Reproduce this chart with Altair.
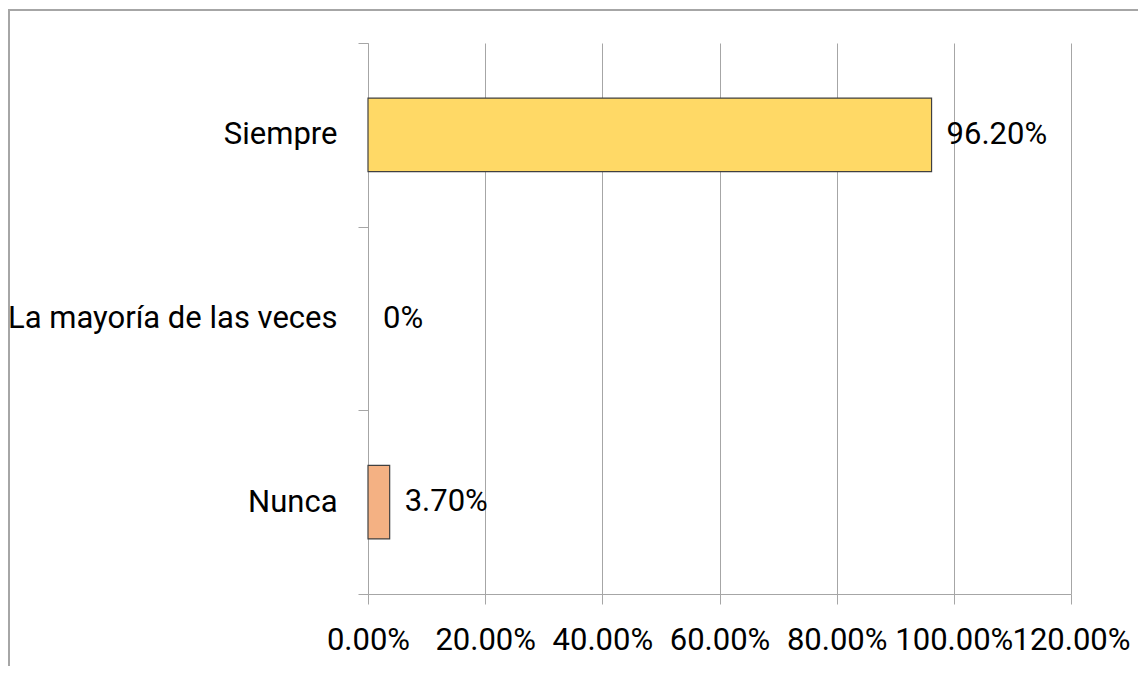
import altair as alt
import pandas as pd

categories = ["Siempre", "La mayoría de las veces", "Nunca"]
values = [0.962, 0.0, 0.037]
labels = ["96.20%", "0%", "3.70%"]
colors = ["#FFD966", "#FFFFFF", "#F4B183"]
tick_values = [0, 0.2, 0.4, 0.6, 0.8, 1.0, 1.2]

df = pd.DataFrame({"cat": categories, "val": values, "label": labels})

FONT = "Roboto"
FS = 31
GRAY = "#A6A6A6"

x_enc = alt.X(
    "val:Q",
    scale=alt.Scale(domain=[0, 1.2], nice=False),
    axis=alt.Axis(
        values=tick_values, format=".2%", title=None, grid=True,
        tickSize=10, labelPadding=21, labelOverlap=False, labelFlush=False,
        labelFontSize=FS, labelFont=FONT, labelColor="#000000", labelLimit=0,
        domainColor=GRAY, tickColor=GRAY, gridColor=GRAY,
    ),
)
y_enc = alt.Y(
    "cat:N",
    sort=categories,
    scale=alt.Scale(paddingInner=0, paddingOuter=0),
    axis=alt.Axis(
        title=None, grid=False, tickBand="extent", tickSize=10,
        labelPadding=21, labelFontSize=FS, labelFont=FONT, labelColor="#000000",
        labelLimit=0, domainColor=GRAY, tickColor=GRAY,
    ),
)

base = alt.Chart(df)

bars = base.transform_filter("datum.val > 0").mark_bar(
    stroke="#404040", strokeWidth=1.2, height=alt.RelativeBandSize(0.4)
).encode(
    x=x_enc,
    y=y_enc,
    color=alt.Color("cat:N", scale=alt.Scale(domain=categories, range=colors), legend=None),
)

text = base.mark_text(
    align="left", baseline="middle", dx=15, fontSize=FS, font=FONT, color="#000000"
).encode(
    x=alt.X("val:Q"),
    y=alt.Y("cat:N", sort=categories),
    text="label:N",
)

frame_left = base.mark_rule(color=GRAY, strokeWidth=2).encode(
    x=alt.value(-359), y=alt.value(-33), y2=alt.value(700)
)
frame_top = base.mark_rule(color=GRAY, strokeWidth=2).encode(
    x=alt.value(-360), x2=alt.value(900), y=alt.value(-33)
)

chart = alt.layer(frame_left, frame_top, bars, text).properties(
    width=703,
    height=551,
    autosize=alt.AutoSizeParams(type="none"),
    padding={"left": 360, "top": 35, "right": 67, "bottom": 72},
    background="white",
).configure_view(stroke=None)

chart.save("out.html", embed_options={"renderer": "svg", "actions": False})
